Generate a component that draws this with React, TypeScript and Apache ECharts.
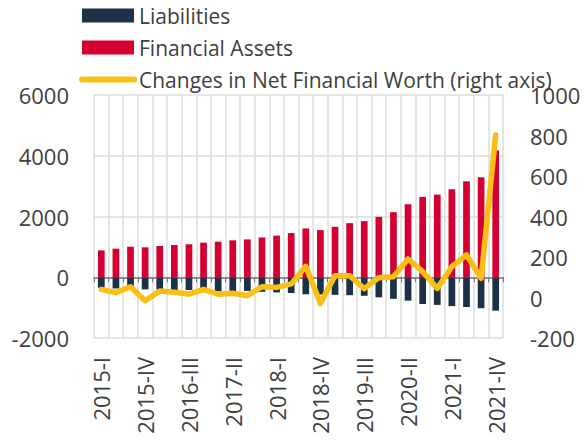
import React, { useEffect, useRef } from "react";
import * as echarts from "echarts";

const categories = [
  "2015-I", "2015-II", "2015-III", "2015-IV",
  "2016-I", "2016-II", "2016-III", "2016-IV",
  "2017-I", "2017-II", "2017-III", "2017-IV",
  "2018-I", "2018-II", "2018-III", "2018-IV",
  "2019-I", "2019-II", "2019-III", "2019-IV",
  "2020-I", "2020-II", "2020-III", "2020-IV",
  "2021-I", "2021-II", "2021-III", "2021-IV",
];

const liabilities = [
  -350, -370, -350, -400, -400, -420, -420, -430, -460, -460, -450, -480, -500, -520,
  -560, -570, -580, -590, -610, -660, -710, -770, -880, -910, -950, -980, -1020, -1100,
];

const financialAssets = [
  885, 940, 1005, 985, 1030, 1060, 1085, 1140, 1170, 1215, 1245, 1310, 1370, 1455,
  1607, 1552, 1661, 1781, 1847, 1989, 2142, 2404, 2645, 2721, 2896, 3158, 3290, 4175,
];

const netWorthChange = [
  40, 24, 53, -16, 32, 26, 17, 40, 16, 21, 9, 53, 50, 67,
  154, -29, 108, 108, 44, 98, 103, 190, 128, 45, 152, 210, 95, 803,
];

const leftTicks = { min: -2000, max: 6000, interval: 2000 };
const rightTicks = { min: -200, max: 1000, interval: 200 };

const FONT = "'Open Sans', 'Noto Sans', sans-serif";
const TXT = "#404040";
const YELLOW = "#f9bf13";

export default function App() {
  const ref = useRef<HTMLDivElement>(null);
  useEffect(() => {
    if (!ref.current) return;
    const chart = echarts.init(ref.current, undefined, { renderer: "svg" });
    chart.setOption({
      animation: false,
      textStyle: { fontFamily: FONT },
      legend: {
        orient: "vertical",
        left: 79,
        top: 5,
        padding: 0,
        itemWidth: 52,
        itemHeight: 14,
        itemGap: 11,
        textStyle: { fontSize: 21, color: TXT, lineHeight: 21, fontFamily: FONT },
        data: [
          { name: "Liabilities", icon: "rect" },
          { name: "Financial Assets", icon: "rect" },
          {
            name: "Changes in Net Financial Worth (right axis)",
            itemStyle: { opacity: 0 },
            lineStyle: { width: 6, cap: "round", color: YELLOW },
          },
        ],
      },
      grid: { left: 94, right: 84, top: 95, bottom: 105 },
      xAxis: [
        {
          type: "category",
          data: categories,
          boundaryGap: true,
          axisLine: { show: false, onZero: false },
          axisTick: { show: false },
          axisLabel: {
            interval: 2,
            rotate: 90,
            fontSize: 22,
            color: TXT,
            margin: 19,
            fontFamily: FONT,
          },
          splitLine: { show: true, interval: 0, lineStyle: { color: "#dcdcdc", width: 1.5 } },
        },
        {
          type: "category",
          data: categories,
          boundaryGap: true,
          position: "bottom",
          axisLine: { show: true, onZero: true, onZeroAxisIndex: 0, lineStyle: { color: "#777", width: 1.5 } },
          axisTick: { show: true, interval: 0, length: 5, lineStyle: { color: "#777", width: 1 } },
          axisLabel: { show: false },
          splitLine: { show: false },
        },
      ],
      yAxis: [
        {
          type: "value",
          ...leftTicks,
          axisLine: { show: false },
          axisTick: { show: false },
          axisLabel: { fontSize: 22, color: TXT, margin: 25, fontFamily: FONT, formatter: (v: number) => String(v) },
          splitLine: { show: true, lineStyle: { color: "#dcdcdc", width: 1.5 } },
        },
        {
          type: "value",
          ...rightTicks,
          position: "right",
          axisLine: { show: false },
          axisTick: { show: false },
          axisLabel: { fontSize: 22, color: TXT, margin: 27, fontFamily: FONT, formatter: (v: number) => String(v) },
          splitLine: { show: false },
        },
      ],
      series: [
        {
          name: "Liabilities",
          type: "bar",
          stack: "total",
          data: liabilities,
          barWidth: "46%",
          itemStyle: { color: "#1c3148" },
          xAxisIndex: 0,
          yAxisIndex: 0,
        },
        {
          name: "Financial Assets",
          type: "bar",
          stack: "total",
          data: financialAssets,
          barWidth: "46%",
          itemStyle: { color: "#d50032" },
          xAxisIndex: 0,
          yAxisIndex: 0,
        },
        {
          name: "Changes in Net Financial Worth (right axis)",
          type: "line",
          data: netWorthChange,
          yAxisIndex: 1,
          xAxisIndex: 0,
          symbol: "none",
          showSymbol: false,
          lineStyle: { color: YELLOW, width: 5.5, cap: "round", join: "round" },
          itemStyle: { color: YELLOW },
          z: 5,
        },
      ],
    });
    return () => chart.dispose();
  }, []);
  return <div ref={ref} style={{ position: "absolute", left: 0, top: 0, width: 587, height: 443 }} />;
}
